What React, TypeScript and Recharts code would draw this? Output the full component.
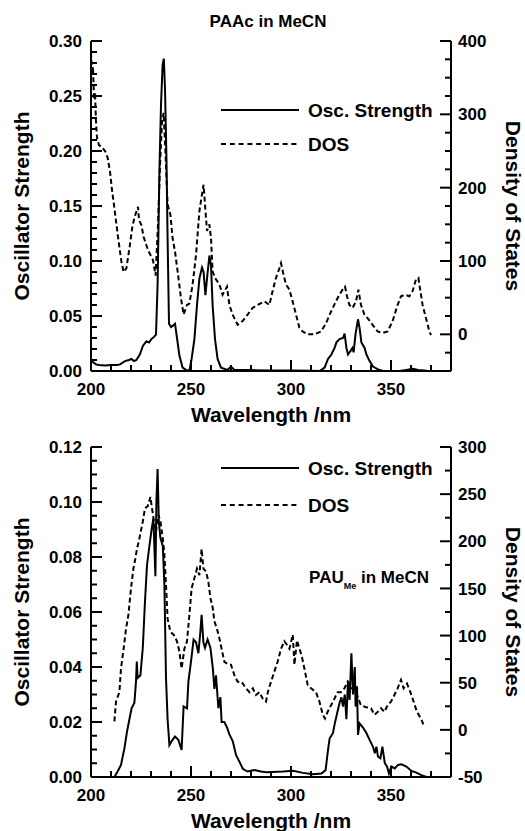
import React from 'react';
import { LineChart, Line, XAxis, YAxis, Legend, Label, ReferenceLine } from 'recharts';

const FONT = '"Liberation Sans", Arial, Helvetica, sans-serif';

// ---------- PAAc in MeCN (top panel) ----------
const paacOscX = [200, 201, 202.5, 204, 207, 210, 213, 214.5, 217, 219, 220.2, 221.5, 222.7, 224.4, 226, 227.7, 229, 230.2, 231.5, 232.5, 233.3, 234.2, 235, 235.8, 236.4, 237, 237.7, 238.3, 239, 240, 240.8, 242, 243, 244.2, 245.8, 247.5, 249.2, 250.3, 251.7, 253, 254.2, 255.5, 256.3, 257.2, 258, 259.2, 260, 260.8, 262, 263.3, 265, 268.3, 270, 271.7, 275, 280, 290, 300, 310, 314.3, 316.8, 318.5, 320.2, 321.8, 322.7, 324.3, 326, 326.8, 327.7, 328.5, 329.7, 330.7, 331.3, 332.3, 333.5, 334.3, 335.2, 336.8, 337.7, 339.3, 341, 343.5, 346, 354, 357.7, 361, 363.5, 368];
const paacOscY = [0.009, 0.008, 0.006, 0.0055, 0.005, 0.0055, 0.0055, 0.006, 0.009, 0.01, 0.011, 0.009, 0.01, 0.015, 0.023, 0.027, 0.026, 0.029, 0.031, 0.033, 0.079, 0.181, 0.242, 0.278, 0.284, 0.257, 0.196, 0.12, 0.043, 0.04, 0.041, 0.043, 0.03, 0.014, 0.003, 0.001, 0, 0.011, 0.029, 0.06, 0.084, 0.094, 0.09, 0.069, 0.084, 0.105, 0.096, 0.06, 0.029, 0.011, 0.003, 0.001, 0.004, 0.001, 0.001, 0.0008, 0.0005, 0.0005, 0.0003, 0, 0.003, 0.011, 0.015, 0.021, 0.026, 0.029, 0.03, 0.034, 0.021, 0.015, 0.018, 0.021, 0.017, 0.034, 0.047, 0.039, 0.026, 0.021, 0.015, 0.009, 0.004, 0.0015, 0, 0, 0.001, 0.002, 0.001, 0.0003];

const paacDosX = [200, 200.5, 201, 201.5, 202, 202.5, 203, 204, 205.5, 207, 208.3, 209.5, 210.5, 211.8, 213.5, 215.2, 216.3, 217.7, 219.3, 220.7, 221.8, 223.5, 224, 225.2, 226.3, 228.5, 231, 232.3, 233.5, 234.5, 235.5, 236.3, 237.2, 238.3, 239.7, 240.8, 242, 243.3, 245, 246.3, 248, 249.2, 250.8, 252.5, 254.2, 255.5, 256.3, 257, 258, 259.2, 260, 260.8, 262, 264.2, 265.8, 268, 269.2, 270.8, 273.3, 275.8, 278.3, 280.8, 283.3, 286.7, 289.2, 290.8, 292.5, 294.2, 295, 296.3, 297.5, 299.2, 300.8, 302.5, 304.2, 305.8, 308.3, 311.7, 315, 317.5, 320, 322.5, 324.2, 325.8, 327, 328, 329.2, 330.8, 332.5, 333.7, 335, 336.7, 338.3, 340.8, 343.3, 345.8, 348.3, 350.8, 353.3, 355, 357, 359.2, 360.8, 362.5, 363.7, 364.7, 365.8, 367.5, 369.2, 370];
const paacDosY = [385, 355, 365, 320, 330, 290, 268, 258, 255, 250, 241, 222, 197, 170, 133, 99, 85, 90, 119, 147, 160, 174, 156, 149, 133, 115, 101, 80, 150, 230, 290, 302, 250, 177, 163, 131, 113, 86, 49, 27, 40, 42, 68, 108, 168, 191, 204, 177, 141, 150, 131, 86, 77, 68, 54, 65, 40, 27, 13, 18, 27, 36, 40, 45, 40, 59, 77, 90, 97, 81, 68, 61, 45, 27, 9, 4, 0, 0, 4, 15, 31, 45, 54, 61, 65, 52, 40, 36, 45, 61, 40, 27, 22, 13, 4, 2, 4, 18, 40, 52, 54, 52, 59, 75, 77, 59, 40, 22, 4, -1];

// ---------- PAU_Me in MeCN (bottom panel) ----------
const pauOscX = [211.7, 213.3, 215, 216.7, 218, 219.2, 220.3, 221.7, 222.5, 222.9, 223.3, 224.7, 225.9, 227, 228, 229.2, 230.3, 231.2, 232.2, 232.7, 233.3, 233.9, 234.7, 235.9, 236.7, 237.5, 238.3, 239.2, 240.3, 242, 243.7, 245.3, 246.3, 248, 248.7, 250, 251.3, 252.5, 253.7, 254.7, 255.3, 256.2, 257, 258.3, 259.7, 260.9, 261.7, 262.5, 263.7, 264.7, 265.3, 266.7, 268, 269.2, 270.9, 272.5, 274.2, 275.9, 278.3, 281.7, 285, 287.7, 296, 301, 306, 311, 315.2, 317.3, 318.5, 319.3, 321, 321.9, 323, 324.3, 325.2, 326, 326.9, 327.7, 328.5, 329.3, 330.2, 331, 331.9, 332.3, 333, 333.5, 334.3, 336, 337.7, 339.3, 341, 341.9, 342.7, 343.5, 344.7, 345.7, 346.9, 348, 349, 350.2, 351.9, 353.5, 355.2, 357.7, 360.2, 362.7, 365.2, 367.7];
const pauOscY = [0, 0.002, 0.0044, 0.0104, 0.0165, 0.021, 0.025, 0.027, 0.0347, 0.042, 0.036, 0.037, 0.047, 0.064, 0.077, 0.084, 0.09, 0.094, 0.073, 0.1, 0.112, 0.093, 0.087, 0.084, 0.07, 0.036, 0.021, 0.0116, 0.013, 0.0147, 0.0135, 0.0098, 0.0257, 0.025, 0.0347, 0.042, 0.05, 0.049, 0.045, 0.053, 0.059, 0.049, 0.047, 0.05, 0.047, 0.0397, 0.032, 0.037, 0.025, 0.029, 0.02, 0.02, 0.018, 0.0155, 0.013, 0.008, 0.0056, 0.003, 0.002, 0.0025, 0.002, 0.0017, 0.002, 0.0023, 0.0015, 0.001, 0.0013, 0.0025, 0.0098, 0.014, 0.016, 0.0195, 0.023, 0.027, 0.029, 0.0256, 0.03, 0.021, 0.035, 0.028, 0.045, 0.03, 0.04, 0.0256, 0.033, 0.0153, 0.0195, 0.018, 0.016, 0.0135, 0.011, 0.0086, 0.011, 0.0074, 0.0068, 0.011, 0.005, 0.0038, 0.0013, 0.0038, 0.0031, 0.0044, 0.0046, 0.0038, 0.0022, 0.0016, 0.0007, 0];

const pauDosX = [211.7, 212.5, 214.2, 215, 216.3, 217.5, 218.7, 220, 221.2, 222.2, 223, 224.2, 225.9, 227, 228.3, 229.7, 230.3, 231.3, 232.5, 233.7, 234.7, 235.9, 236.7, 237.5, 238.3, 239.7, 241.3, 243, 244.2, 245.3, 246.7, 248, 249.2, 250.3, 251.7, 253, 254.2, 255.3, 256.2, 257.5, 258.7, 259.7, 260.9, 261.7, 263, 264.2, 265.3, 266.7, 268.3, 270, 271.7, 273.3, 275.3, 277.5, 279.2, 280.9, 282.5, 284.2, 285.9, 287.5, 288.4, 290, 291.7, 293.3, 295, 296.7, 298, 299.2, 300.9, 301.7, 303, 304.2, 305.3, 306.7, 308.3, 310, 312.5, 314.2, 315.9, 317, 318.3, 320, 321.7, 323.3, 325, 326.7, 328.3, 330, 331.7, 333, 335, 337.5, 340, 341.7, 343.3, 345, 346.7, 348.3, 350, 351.7, 353.3, 355, 356.3, 358, 359.7, 361.3, 363, 365, 366.3];
const pauDosY = [9, 30, 40, 65, 86, 107, 122, 150, 171, 182, 192, 203, 221, 235, 237, 247, 238, 224, 210, 228, 221, 203, 186, 154, 118, 104, 101, 94, 83, 65, 86, 94, 122, 150, 161, 171, 164, 192, 171, 168, 157, 140, 129, 115, 107, 97, 86, 72, 70, 69, 58, 51, 51, 44, 40, 44, 37, 40, 33, 30, 40, 51, 62, 72, 86, 94, 90, 86, 101, 69, 95, 86, 79, 65, 48, 44, 40, 30, 16, 12, 19, 26, 33, 40, 40, 44, 51, 44, 44, 37, 26, 24, 23, 16, 19, 23, 19, 26, 30, 37, 44, 53, 44, 49, 40, 30, 19, 12, 5];

// ---------- ticks ----------
const xMinor = [210, 220, 230, 240, 260, 270, 280, 290, 310, 320, 330, 340, 360, 370];
const xMajor = [200, 250, 300, 350];

const topLeftMinor = [0.01, 0.02, 0.03, 0.04, 0.06, 0.07, 0.08, 0.09, 0.11, 0.12, 0.13, 0.14, 0.16, 0.17, 0.18, 0.19, 0.21, 0.22, 0.23, 0.24, 0.26, 0.27, 0.28, 0.29];
const topLeftMajor = [0, 0.05, 0.1, 0.15, 0.2, 0.25, 0.3];
const topRightMinor = [-50, -25, 25, 50, 75, 125, 150, 175, 225, 250, 275, 325, 350, 375];
const topRightMajor = [0, 100, 200, 300, 400];

const botLeftMinor = [0.005, 0.01, 0.015, 0.025, 0.03, 0.035, 0.045, 0.05, 0.055, 0.065, 0.07, 0.075, 0.085, 0.09, 0.095, 0.105, 0.11, 0.115];
const botLeftMajor = [0, 0.02, 0.04, 0.06, 0.08, 0.1, 0.12];
const botRightMinor = [-25, 25, 75, 125, 175, 225, 275];
const botRightMajor = [-50, 0, 50, 100, 150, 200, 250, 300];

const seriesNames = ['Osc. Strength', 'DOS'];
const xDomain: [number, number] = [200, 380];

const toPoints = (xs: number[], ys: number[]) => xs.map((x, i) => ({ x, y: ys[i] }));

const textStyle = { fontFamily: FONT, fontWeight: 700, fill: '#000' } as const;
const axisStroke = { stroke: '#000', strokeWidth: 2 };

function makeLabel(side: 'left' | 'right' | 'bottom', fmt: (v: number) => string) {
  return (props: any) => {
    const x = Number(props.x);
    const y = Number(props.y);
    const v = Number(props.payload.value);
    if (side === 'left')
      return (
        <text x={x - 9} y={y} dy="0.36em" textAnchor="end" fontSize={17} {...textStyle}>
          {fmt(v)}
        </text>
      );
    if (side === 'right')
      return (
        <text x={x + 7} y={y} dy="0.36em" textAnchor="start" fontSize={17} {...textStyle}>
          {fmt(v)}
        </text>
      );
    return (
      <text x={x} y={y + 23.5} textAnchor="middle" fontSize={17} {...textStyle}>
        {fmt(v)}
      </text>
    );
  };
}

// inward tick mark drawn from a ReferenceLine's scaled end points
const tickShape = (side: 'left' | 'right' | 'bottom', len: number) => (p: any) => {
  const x1 = Number(p.x1);
  const x2 = Number(p.x2);
  const y1 = Number(p.y1);
  const y2 = Number(p.y2);
  if (side === 'left') {
    const xl = Math.min(x1, x2);
    return <line x1={xl} y1={y1} x2={xl + len} y2={y1} stroke="#000" strokeWidth={2} />;
  }
  if (side === 'right') {
    const xr = Math.max(x1, x2);
    return <line x1={xr} y1={y1} x2={xr - len} y2={y1} stroke="#000" strokeWidth={2} />;
  }
  const yb = Math.max(y1, y2);
  return <line x1={x1} y1={yb} x2={x1} y2={yb - len} stroke="#000" strokeWidth={2} />;
};

const leftTitle = (text: string) => (p: any) => {
  const vb = p.viewBox;
  const cx = vb.x + 21.5;
  const cy = vb.y + vb.height / 2;
  return (
    <text x={cx} y={cy} dy="0.355em" textAnchor="middle" fontSize={21} transform={`rotate(-90, ${cx}, ${cy})`} {...textStyle}>
      {text}
    </text>
  );
};

const rightTitle = (text: string) => (p: any) => {
  const vb = p.viewBox;
  const cx = vb.x + 62.5;
  const cy = vb.y + vb.height / 2;
  return (
    <text x={cx} y={cy} dy="0.355em" textAnchor="middle" fontSize={21} transform={`rotate(90, ${cx}, ${cy})`} {...textStyle}>
      {text}
    </text>
  );
};

const bottomTitle = (text: string) => (p: any) => {
  const vb = p.viewBox;
  return (
    <text x={vb.x + vb.width / 2} y={vb.y + 51} textAnchor="middle" fontSize={21} {...textStyle}>
      {text}
    </text>
  );
};

const legendContent = (gap: number, extra?: React.ReactNode) => (props: any) => {
  const raw = props.payload || [];
  const items = seriesNames
    .map((n) => raw.find((it: any) => it.value === n))
    .filter((it: any) => !!it);
  return (
    <svg width={240} height={150} style={{ display: 'block', overflow: 'visible' }}>
      {items.map((it: any, i: number) => {
        const ly = 19 + i * gap;
        const dash = it.payload && it.payload.strokeDasharray;
        return (
          <g key={i}>
            <line x1={11} y1={ly} x2={89} y2={ly} stroke="#000" strokeWidth={2} strokeDasharray={dash ? '5 3.8' : undefined} />
            <text x={98} y={ly} dy="0.355em" fontSize={19} {...textStyle}>
              {it.value}
            </text>
          </g>
        );
      })}
      {extra}
    </svg>
  );
};

function Panel(props: {
  top: number;
  height: number;
  marginTop: number;
  oscX: number[];
  oscY: number[];
  dosX: number[];
  dosY: number[];
  leftDomain: [number, number];
  leftMinor: number[];
  leftMajor: number[];
  rightDomain: [number, number];
  rightMinor: number[];
  rightMajor: number[];
  legendTop: number;
  legendGap: number;
  extra?: React.ReactNode;
}) {
  const xAxisHeight = props.height - props.marginTop - 330;
  const refs: React.ReactNode[] = [];
  refs.push(<ReferenceLine key="fl" xAxisId="x" yAxisId="left" x={xDomain[0]} stroke="#000" strokeWidth={2} />);
  refs.push(<ReferenceLine key="fr" xAxisId="x" yAxisId="left" x={xDomain[1]} stroke="#000" strokeWidth={2} />);
  refs.push(<ReferenceLine key="fb" xAxisId="x" yAxisId="left" y={props.leftDomain[0]} stroke="#000" strokeWidth={2} />);
  props.leftMajor.forEach((v) => refs.push(<ReferenceLine key={`lM${v}`} xAxisId="x" yAxisId="left" y={v} shape={tickShape('left', 11)} />));
  props.leftMinor.forEach((v) => refs.push(<ReferenceLine key={`lm${v}`} xAxisId="x" yAxisId="left" y={v} shape={tickShape('left', 6)} />));
  props.rightMajor.forEach((v) => refs.push(<ReferenceLine key={`rM${v}`} xAxisId="x" yAxisId="right" y={v} shape={tickShape('right', 11)} />));
  props.rightMinor.forEach((v) => refs.push(<ReferenceLine key={`rm${v}`} xAxisId="x" yAxisId="right" y={v} shape={tickShape('right', 6)} />));
  xMajor.forEach((v) => refs.push(<ReferenceLine key={`xM${v}`} xAxisId="x" yAxisId="left" x={v} shape={tickShape('bottom', 11)} />));
  xMinor.forEach((v) => refs.push(<ReferenceLine key={`xm${v}`} xAxisId="x" yAxisId="left" x={v} shape={tickShape('bottom', 6)} />));

  return (
    <div style={{ position: 'absolute', left: 0, top: props.top }}>
      <LineChart width={525} height={props.height} margin={{ top: props.marginTop, right: 0, bottom: 0, left: 0 }}>
        <XAxis
          xAxisId="x"
          type="number"
          dataKey="x"
          domain={xDomain}
          allowDataOverflow
          ticks={xMajor}
          interval={0}
          tickSize={0}
          tickMargin={0}
          tickLine={false}
          height={xAxisHeight}
          axisLine={axisStroke}
          tick={makeLabel('bottom', (v) => String(v))}
        >
          <Label content={bottomTitle('Wavelength /nm')} />
        </XAxis>
        <YAxis
          yAxisId="left"
          orientation="left"
          type="number"
          domain={props.leftDomain}
          allowDataOverflow
          ticks={props.leftMajor}
          interval={0}
          width={91}
          tickSize={0}
          tickMargin={0}
          tickLine={false}
          axisLine={axisStroke}
          tick={makeLabel('left', (v) => v.toFixed(2))}
        >
          <Label content={leftTitle('Oscillator Strength')} />
        </YAxis>
        <YAxis
          yAxisId="right"
          orientation="right"
          type="number"
          domain={props.rightDomain}
          allowDataOverflow
          ticks={props.rightMajor}
          interval={0}
          width={74}
          tickSize={0}
          tickMargin={0}
          tickLine={false}
          axisLine={axisStroke}
          tick={makeLabel('right', (v) => String(v))}
        >
          <Label content={rightTitle('Density of States')} />
        </YAxis>

        {refs}

        <Line
          name={seriesNames[0]}
          xAxisId="x"
          yAxisId="left"
          data={toPoints(props.oscX, props.oscY)}
          dataKey="y"
          type="linear"
          stroke="#000"
          strokeWidth={2}
          dot={false}
          activeDot={false}
          isAnimationActive={false}
        />
        <Line
          name={seriesNames[1]}
          xAxisId="x"
          yAxisId="right"
          data={toPoints(props.dosX, props.dosY)}
          dataKey="y"
          type="linear"
          stroke="#000"
          strokeWidth={2}
          strokeDasharray="5 3"
          dot={false}
          activeDot={false}
          isAnimationActive={false}
        />
        <Legend
          layout="vertical"
          align="center"
          verticalAlign="middle"
          wrapperStyle={{ left: 210, top: props.legendTop, width: 240 }}
          content={legendContent(props.legendGap, props.extra)}
        />
      </LineChart>
    </div>
  );
}

export default function App() {
  return (
    <div style={{ position: 'absolute', left: 0, top: 0, width: 525, height: 831, background: '#fff' }}>
      <svg width={525} height={40} style={{ position: 'absolute', left: 0, top: 0 }}>
        <text x={268} y={27} textAnchor="middle" fontSize={17} {...textStyle}>
          PAAc in MeCN
        </text>
      </svg>
      <Panel
        top={0}
        height={430}
        marginTop={41}
        oscX={paacOscX}
        oscY={paacOscY}
        dosX={paacDosX}
        dosY={paacDosY}
        leftDomain={[0, 0.3]}
        leftMinor={topLeftMinor}
        leftMajor={topLeftMajor}
        rightDomain={[-50, 400]}
        rightMinor={topRightMinor}
        rightMajor={topRightMajor}
        legendTop={91}
        legendGap={34}
      />
      <Panel
        top={430}
        height={401}
        marginTop={17}
        oscX={pauOscX}
        oscY={pauOscY}
        dosX={pauDosX}
        dosY={pauDosY}
        leftDomain={[0, 0.12]}
        leftMinor={botLeftMinor}
        leftMajor={botLeftMajor}
        rightDomain={[-50, 300]}
        rightMinor={botRightMinor}
        rightMajor={botRightMajor}
        legendTop={19}
        legendGap={37}
        extra={
          <text x={219} y={134} textAnchor="end" fontSize={17} {...textStyle}>
            PAU
            <tspan fontSize={9} dy={6}>Me</tspan>
            <tspan dy={-6}> in MeCN</tspan>
          </text>
        }
      />
    </div>
  );
}
